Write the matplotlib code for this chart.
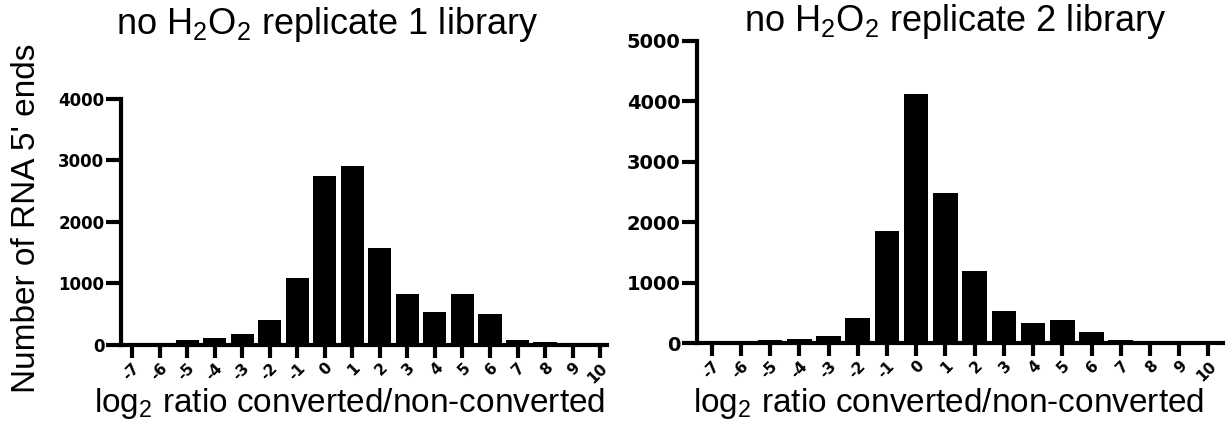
import matplotlib
matplotlib.use('Agg')
import matplotlib.pyplot as plt

plt.rcParams['font.family'] = ['Liberation Sans', 'DejaVu Sans']
plt.rcParams['mathtext.fontset'] = 'custom'
plt.rcParams['mathtext.rm'] = 'Liberation Sans'

# log2 ratio bins shared by both libraries
bins = list(range(-7, 11))
bin_labels = [str(b) for b in bins]

# Number of RNA 5' ends per bin
rep1_counts = [5, 40, 80, 118, 180, 400, 1095, 2740, 2910, 1573,
               822, 537, 822, 510, 80, 48, 15, 10]
rep2_counts = [5, 5, 44, 66, 121, 414, 1860, 4118, 2490, 1187,
               524, 331, 386, 182, 55, 8, 4, 3]

panel_titles = [r'no H$_\mathregular{2}$O$_\mathregular{2}$ replicate 1 library',
                r'no H$_\mathregular{2}$O$_\mathregular{2}$ replicate 2 library']
x_title = r'log$_\mathregular{2}$ ratio converted/non-converted'
y_title = "Number of RNA 5' ends"

fig = plt.figure(figsize=(12.26, 4.23), dpi=100)
ax1 = fig.add_axes([0.0987, 0.1844, 0.3964, 0.5816])
ax2 = fig.add_axes([0.5685, 0.1891, 0.4291, 0.7140])


def style_panel(ax, counts, ymax, xlim, ytick_size, xlabel_pos):
    ax.bar(bins, counts, width=0.84, color='black', edgecolor='black', linewidth=0)
    ax.set_xlim(*xlim)
    ax.set_ylim(0, ymax)
    ax.set_yticks(range(0, ymax + 1, 1000))
    ax.set_xticks(bins)
    ax.set_xticklabels(bin_labels, rotation=45, ha='right', va='top',
                       rotation_mode='anchor', fontsize=11, fontweight='bold',
                       family='DejaVu Sans')
    for lbl in ax.get_yticklabels():
        lbl.set_fontsize(ytick_size)
        lbl.set_fontweight('bold')
        lbl.set_family('DejaVu Sans')
    for side in ['top', 'right']:
        ax.spines[side].set_visible(False)
    for side in ['left', 'bottom']:
        ax.spines[side].set_linewidth(3)
    ax.tick_params(axis='y', direction='out', length=11, width=3, pad=1)
    ax.tick_params(axis='x', direction='out', length=9, width=3, pad=2)
    ax.set_xlabel(x_title, fontsize=24)
    ax.xaxis.set_label_coords(*xlabel_pos)


style_panel(ax1, rep1_counts, 4000, (-7.4, 10.25), 12, (0.471, -0.167))
style_panel(ax2, rep2_counts, 5000, (-7.5, 10.5), 14, (0.479, -0.142))

fig.text(0.2667, 0.941, panel_titles[0], fontsize=26, ha='center', va='center')
fig.text(0.779, 0.948, panel_titles[1], fontsize=26, ha='center', va='center')
fig.text(0.022, 0.485, y_title, fontsize=24, rotation=90, ha='center', va='center')

fig.savefig('out.png', dpi=100)
plt.close(fig)
